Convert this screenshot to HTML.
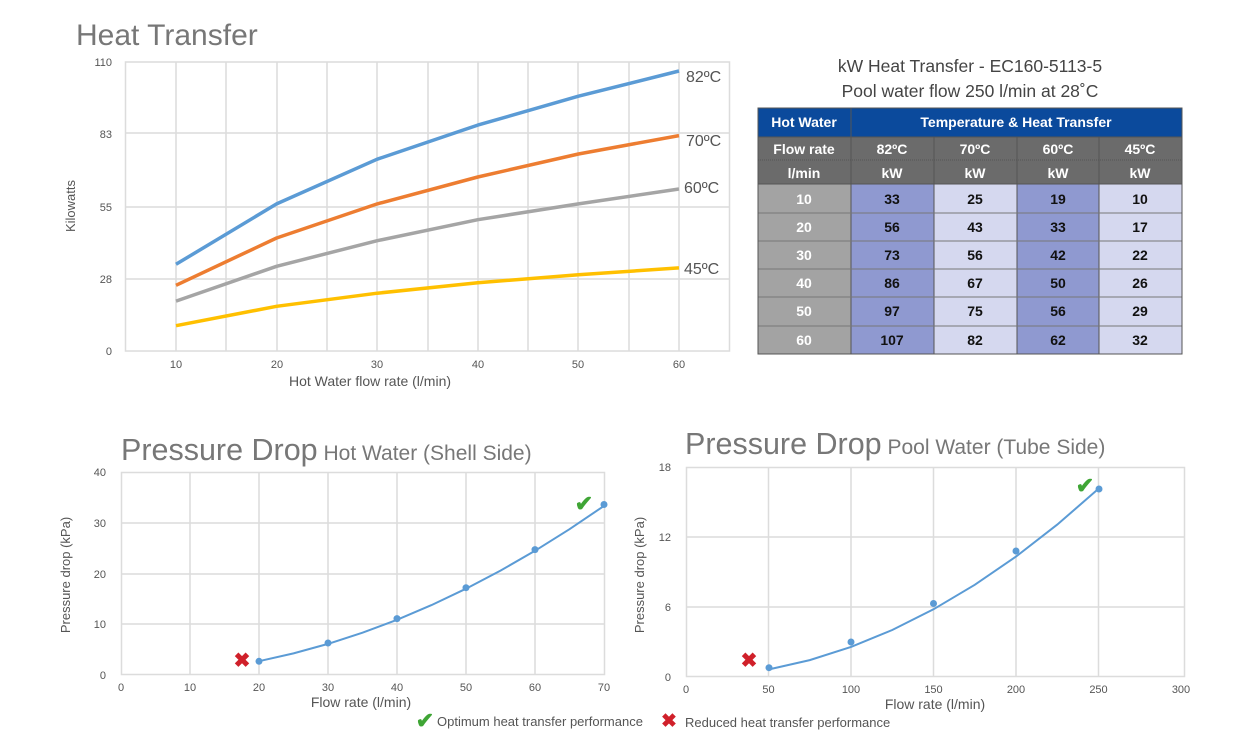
<!DOCTYPE html>
<html><head><meta charset="utf-8"><style>
body{margin:0;background:#fff;width:1236px;height:750px;overflow:hidden}
svg{font-family:"Liberation Sans",sans-serif}
</style></head><body>
<svg width="1236" height="750" viewBox="0 0 1236 750">
<!-- Heat Transfer -->
<text x="76" y="45" font-size="30" fill="#777">Heat Transfer</text>
<g stroke="#dcdcdc" stroke-width="1.5" fill="none">
<rect x="125.5" y="62" width="604" height="289"/>
<line x1="176" y1="62" x2="176" y2="351"/><line x1="226" y1="62" x2="226" y2="351"/>
<line x1="277" y1="62" x2="277" y2="351"/><line x1="327" y1="62" x2="327" y2="351"/>
<line x1="377" y1="62" x2="377" y2="351"/><line x1="428" y1="62" x2="428" y2="351"/>
<line x1="478" y1="62" x2="478" y2="351"/><line x1="528" y1="62" x2="528" y2="351"/>
<line x1="578" y1="62" x2="578" y2="351"/><line x1="629" y1="62" x2="629" y2="351"/>
<line x1="679" y1="62" x2="679" y2="351"/>
<line x1="125" y1="133" x2="730" y2="133"/><line x1="125" y1="207" x2="730" y2="207"/><line x1="125" y1="279" x2="730" y2="279"/>
</g>
<g font-size="11" fill="#555" text-anchor="end">
<text x="112" y="66">110</text><text x="112" y="138">83</text><text x="112" y="211">55</text><text x="112" y="283">28</text><text x="112" y="355">0</text>
</g>
<g font-size="11" fill="#555" text-anchor="middle">
<text x="176" y="368">10</text><text x="277" y="368">20</text><text x="377" y="368">30</text><text x="478" y="368">40</text><text x="578" y="368">50</text><text x="679" y="368">60</text>
</g>
<text x="370" y="386" font-size="14" fill="#555" text-anchor="middle">Hot Water flow rate (l/min)</text>
<text transform="translate(75,206) rotate(-90)" font-size="13" fill="#555" text-anchor="middle">Kilowatts</text>
<g fill="none" stroke-width="3.5" stroke-linejoin="round">
<polyline stroke="#5b9bd5" points="176,264.3 276.6,203.9 377.2,159.2 477.8,125.1 578.4,96.2 679,71"/>
<polyline stroke="#ed7d31" points="176,285.3 276.6,238 377.2,203.9 477.8,177 578.4,154 679,135.6"/>
<polyline stroke="#a5a5a5" points="176,301.1 276.6,266.3 377.2,240.7 477.8,219.7 578.4,203.9 679,189"/>
<polyline stroke="#ffc000" points="176,325.7 276.6,306.3 377.2,293.2 477.8,282.7 578.4,274.8 679,267.9"/>
</g>
<g font-size="16" fill="#555">
<text x="686" y="82">82ºC</text><text x="686" y="146">70ºC</text><text x="684" y="193">60ºC</text><text x="684" y="274">45ºC</text>
</g>
<!-- Table -->
<text x="970" y="72" font-size="17.5" fill="#444" text-anchor="middle">kW Heat Transfer - EC160-5113-5</text>
<text x="970" y="97" font-size="17.5" fill="#444" text-anchor="middle">Pool water flow 250 l/min at 28˚C</text>
<rect x="758" y="108" width="424" height="29" fill="#0b4a9c"/>
<rect x="758" y="137" width="424" height="47" fill="#6b6b6b"/>
<rect x="758" y="184" width="93" height="170" fill="#a3a3a3"/>
<rect x="851" y="184" width="83" height="170" fill="#8f99d0"/>
<rect x="934" y="184" width="83" height="170" fill="#d5d8ef"/>
<rect x="1017" y="184" width="82" height="170" fill="#8f99d0"/>
<rect x="1099" y="184" width="83" height="170" fill="#d5d8ef"/>
<g stroke="#555" stroke-width="1">
<line x1="851" y1="108" x2="851" y2="354"/><line x1="934" y1="137" x2="934" y2="354"/>
<line x1="1017" y1="137" x2="1017" y2="354"/><line x1="1099" y1="137" x2="1099" y2="354"/>
<line x1="758" y1="137" x2="1182" y2="137"/><line x1="758" y1="160" x2="1182" y2="160" stroke-dasharray="1,1"/>
<line x1="758" y1="184" x2="1182" y2="184"/><line x1="758" y1="213" x2="1182" y2="213" stroke="#777"/>
<line x1="758" y1="241" x2="1182" y2="241" stroke="#777"/><line x1="758" y1="269" x2="1182" y2="269" stroke="#777"/>
<line x1="758" y1="297" x2="1182" y2="297" stroke="#777"/><line x1="758" y1="326" x2="1182" y2="326" stroke="#777"/>
<rect x="758" y="108" width="424" height="246" fill="none"/>
</g>
<g font-size="14" font-weight="bold" text-anchor="middle" fill="#fff">
<text x="804" y="127">Hot Water</text><text x="1016" y="127">Temperature &amp; Heat Transfer</text>
<text x="804" y="154">Flow rate</text><text x="892" y="154">82ºC</text><text x="975" y="154">70ºC</text><text x="1058" y="154">60ºC</text><text x="1140" y="154">45ºC</text>
<text x="804" y="178">l/min</text><text x="892" y="178">kW</text><text x="975" y="178">kW</text><text x="1058" y="178">kW</text><text x="1140" y="178">kW</text>
<text x="804" y="204">10</text><text x="804" y="232">20</text><text x="804" y="260">30</text><text x="804" y="288">40</text><text x="804" y="316">50</text><text x="804" y="345">60</text>
</g>
<g font-size="14" font-weight="bold" text-anchor="middle" fill="#111">
<text x="892" y="204">33</text><text x="975" y="204">25</text><text x="1058" y="204">19</text><text x="1140" y="204">10</text>
<text x="892" y="232">56</text><text x="975" y="232">43</text><text x="1058" y="232">33</text><text x="1140" y="232">17</text>
<text x="892" y="260">73</text><text x="975" y="260">56</text><text x="1058" y="260">42</text><text x="1140" y="260">22</text>
<text x="892" y="288">86</text><text x="975" y="288">67</text><text x="1058" y="288">50</text><text x="1140" y="288">26</text>
<text x="892" y="316">97</text><text x="975" y="316">75</text><text x="1058" y="316">56</text><text x="1140" y="316">29</text>
<text x="892" y="345">107</text><text x="975" y="345">82</text><text x="1058" y="345">62</text><text x="1140" y="345">32</text>
</g>
<!-- Pressure Drop left -->
<text x="121" y="460" fill="#777"><tspan font-size="30.5">Pressure Drop</tspan><tspan font-size="21"> Hot Water (Shell Side)</tspan></text>
<g stroke="#dcdcdc" stroke-width="1.5" fill="none">
<rect x="121.5" y="472.5" width="483" height="202"/>
<line x1="190" y1="472" x2="190" y2="675"/><line x1="259" y1="472" x2="259" y2="675"/><line x1="328" y1="472" x2="328" y2="675"/>
<line x1="397" y1="472" x2="397" y2="675"/><line x1="466" y1="472" x2="466" y2="675"/><line x1="535" y1="472" x2="535" y2="675"/>
<line x1="121" y1="523" x2="605" y2="523"/><line x1="121" y1="574" x2="605" y2="574"/><line x1="121" y1="624" x2="605" y2="624"/>
</g>
<g font-size="11" fill="#555" text-anchor="end">
<text x="106" y="476">40</text><text x="106" y="527">30</text><text x="106" y="578">20</text><text x="106" y="628">10</text><text x="106" y="679">0</text>
</g>
<g font-size="11" fill="#555" text-anchor="middle">
<text x="121" y="691">0</text><text x="190" y="691">10</text><text x="259" y="691">20</text><text x="328" y="691">30</text><text x="397" y="691">40</text><text x="466" y="691">50</text><text x="535" y="691">60</text><text x="604" y="691">70</text>
</g>
<text x="361" y="707" font-size="14" fill="#555" text-anchor="middle">Flow rate (l/min)</text>
<text transform="translate(70,575) rotate(-90)" font-size="13" fill="#555" text-anchor="middle">Pressure drop (kPa)</text>
<polyline fill="none" stroke="#5b9bd5" stroke-width="2" points="259,661.2 293.5,653.4 328,643.9 362.5,632.7 397,619.8 431.5,605.1 466,588.7 500.5,570.6 535,550.8 569.5,529.2 604,505.9"/>
<g fill="#5b9bd5"><circle cx="259" cy="661.3" r="3.5"/><circle cx="328" cy="643" r="3.5"/><circle cx="397" cy="618.6" r="3.5"/><circle cx="466" cy="587.7" r="3.5"/><circle cx="535" cy="549.6" r="3.5"/><circle cx="604" cy="504.5" r="3.5"/></g>
<text x="242" y="667" font-size="20" font-weight="bold" fill="#d0202a" text-anchor="middle">✖</text>
<text x="584" y="511" font-size="22" font-weight="bold" fill="#3fa535" text-anchor="middle">✔</text>
<!-- Pressure Drop right -->
<text x="685" y="454" fill="#777"><tspan font-size="30.5">Pressure Drop</tspan><tspan font-size="21"> Pool Water (Tube Side)</tspan></text>
<g stroke="#dcdcdc" stroke-width="1.5" fill="none">
<rect x="686.5" y="467.5" width="498" height="209"/>
<line x1="768.5" y1="467" x2="768.5" y2="677"/><line x1="851" y1="467" x2="851" y2="677"/><line x1="933.5" y1="467" x2="933.5" y2="677"/>
<line x1="1016" y1="467" x2="1016" y2="677"/><line x1="1098.5" y1="467" x2="1098.5" y2="677"/>
<line x1="686" y1="537" x2="1185" y2="537"/><line x1="686" y1="607" x2="1185" y2="607"/>
</g>
<g font-size="11" fill="#555" text-anchor="end">
<text x="671" y="471">18</text><text x="671" y="541">12</text><text x="671" y="611">6</text><text x="671" y="681">0</text>
</g>
<g font-size="11" fill="#555" text-anchor="middle">
<text x="686" y="693">0</text><text x="768.5" y="693">50</text><text x="851" y="693">100</text><text x="933.5" y="693">150</text><text x="1016" y="693">200</text><text x="1098.5" y="693">250</text><text x="1181" y="693">300</text>
</g>
<text x="935" y="709" font-size="14" fill="#555" text-anchor="middle">Flow rate (l/min)</text>
<text transform="translate(644,575) rotate(-90)" font-size="13" fill="#555" text-anchor="middle">Pressure drop (kPa)</text>
<polyline fill="none" stroke="#5b9bd5" stroke-width="2" points="768.5,669.5 809.75,660.1 851,646.9 892.25,630 933.5,609.3 974.75,584.8 1016,556.6 1057.25,524.6 1098.5,488.8"/>
<g fill="#5b9bd5"><circle cx="769" cy="667.7" r="3.5"/><circle cx="851" cy="642" r="3.5"/><circle cx="933.5" cy="603.5" r="3.5"/><circle cx="1016" cy="551" r="3.5"/><circle cx="1099" cy="489" r="3.5"/></g>
<text x="749" y="667" font-size="20" font-weight="bold" fill="#d0202a" text-anchor="middle">✖</text>
<text x="1085" y="493" font-size="22" font-weight="bold" fill="#3fa535" text-anchor="middle">✔</text>
<!-- legend -->
<text x="425" y="728" font-size="22" font-weight="bold" fill="#3fa535" text-anchor="middle">✔</text>
<text x="437" y="726" font-size="13" fill="#555">Optimum heat transfer performance</text>
<text x="669" y="727" font-size="19" font-weight="bold" fill="#d0202a" text-anchor="middle">✖</text>
<text x="685" y="727" font-size="13" fill="#555">Reduced heat transfer performance</text>
</svg>
</body></html>
